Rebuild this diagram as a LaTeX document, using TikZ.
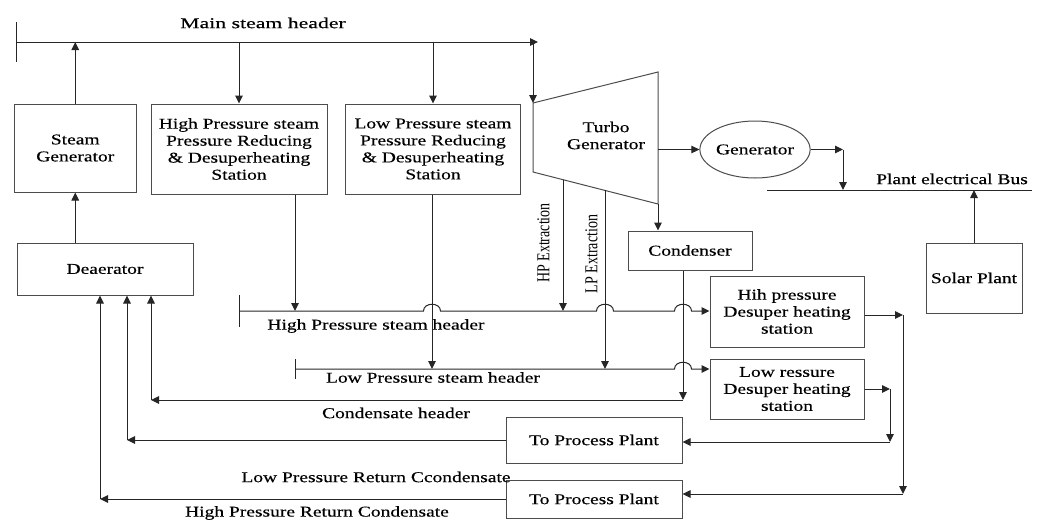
\documentclass[tikz,border=0pt]{standalone}
\usepackage{fontspec}
\setmainfont{Liberation Serif}[FakeStretch=1.3,FakeBold=0.35]
\newfontfamily\wideserif{Liberation Serif}[FakeStretch=1.45,FakeBold=0.35]
\newfontfamily\plainserif{Liberation Serif}
\usetikzlibrary{arrows.meta,shapes.geometric,calc}
\newcommand\fs{\fontsize{15}{17}\selectfont}
\begin{document}
\begin{tikzpicture}[x=1pt,y=-1pt,
  ln/.style={draw=black!85, line width=1pt},
  arr/.style={ln, -{Triangle[length=8pt,width=7.5pt]}},
  box/.style={draw=black!70, line width=1pt, align=center, inner sep=0pt, font=\fs, text=black},
  lbl/.style={font=\fs, text=black, inner sep=0pt, align=center},
  rlbl/.style={font=\plainserif\fontsize{14}{16}\selectfont, text=black, inner sep=0pt, rotate=90}]
\useasboundingbox (0,0) rectangle (1048,520);

% ---- boxes
\node[box, minimum width=121.5pt, minimum height=88pt] (sg) at (75.25,148) {Steam\\Generator};
\node[box, minimum width=176pt, minimum height=90pt] (hpprds) at (239,149) {High Pressure steam\\Pressure Reducing\\\& Desuperheating\\Station};
\node[box, minimum width=175.5pt, minimum height=90pt] (lpprds) at (433,149) {Low Pressure steam\\Pressure Reducing\\\& Desuperheating\\Station};
\node[box, minimum width=176pt, minimum height=52pt] (dea) at (105,269) {Deaerator};
\node[box, minimum width=124pt, minimum height=39pt] (cond) at (690,250.5) {Condenser};
\node[box, minimum width=154pt, minimum height=71pt] (hpds) at (787,311.5) {Hih pressure\\Desuper heating\\station};
\node[box, minimum width=154pt, minimum height=60pt] (lpds) at (787,389) {Low ressure\\Desuper heating\\station};
\node[box, minimum width=176pt, minimum height=46pt] (tpp1) at (594,440) {To Process Plant};
\node[box, minimum width=176pt, minimum height=38pt] (tpp2) at (594,499) {To Process Plant};
\node[box, minimum width=96pt, minimum height=70pt] (solar) at (974,278) {Solar Plant};
\node[box, ellipse, minimum width=90pt, minimum height=57pt] (gen) at (755,149.5) {Generator};

% ---- turbine
\coordinate (tTL) at (533,103);
\coordinate (tTR) at (658,72);
\coordinate (tBR) at (658,204);
\coordinate (tBL) at (533,172);
\draw[draw=black!70, line width=1pt] (tTL) -- (tTR) -- (tBR) -- (tBL) -- cycle;
\node[lbl] (turbo) at (606,135.5) {Turbo\\Generator};

% ---- main steam header
\coordinate (mhL) at (16,42);
\coordinate (mhR) at (538,42);
\draw[ln] (16,22) -- (16,62);
\draw[arr] (mhL) -- (mhR);
\node[lbl, font=\wideserif\fontsize{15}{17}\selectfont] (mhlabel) at (263,23) {Main steam header};
\coordinate (mhT) at (533,42);
\draw[arr] (mhT) -- (tTL);
\draw[arr] (sg.north) -- (sg.north |- mhL);
\draw[arr] (hpprds.north |- mhL) -- (hpprds.north);
\draw[arr] (lpprds.north |- mhL) -- (lpprds.north);

% deaerator -> steam generator
\draw[arr] (dea.north -| sg.south) -- (sg.south);

% ---- HP steam header
\coordinate (hhL) at (239,311);
\draw[ln] (239,295) -- (239,327);
\draw[ln, -{Triangle[length=8pt,width=7.5pt]}] (hhL) -- (423.5,311) .. controls (423.5,302) and (440.5,302) .. (440.5,311)
  -- (596.5,311) .. controls (596.5,302) and (613.5,302) .. (613.5,311)
  -- (674.5,311) .. controls (674.5,302) and (691.5,302) .. (691.5,311) -- (hpds.west |- hhL);
\node[lbl] (hhlabel) at (376,326) {High Pressure steam header};
\draw[arr] (hpprds.south -| 295,0) -- (295,311);

% ---- LP steam header
\coordinate (lhL) at (295,369);
\draw[ln] (295,359) -- (295,379);
\draw[ln, -{Triangle[length=8pt,width=7.5pt]}] (lhL) -- (674.5,369) .. controls (674.5,360) and (691.5,360) .. (691.5,369) -- (lpds.west |- lhL);
\node[lbl] (lhlabel) at (433,377.5) {Low Pressure steam header};
\draw[arr] (lpprds.south -| 432,0) -- (432,369);

% ---- extractions
\coordinate (hpx) at ($(tBL)!0.24!(tBR)$);
\coordinate (lpx) at ($(tBL)!0.576!(tBR)$);
\draw[arr] (hpx) -- (hpx |- hhL);
\draw[arr] (lpx) -- (lpx |- lhL);
\node[rlbl] (hpxl) at (543.5,243) {\scalebox{1}[1.3]{HP Extraction}};
\node[rlbl] (lpxl) at (591.5,254) {\scalebox{1}[1.3]{LP Extraction}};

% ---- turbine -> condenser, generator
\draw[arr] (tBR) -- (tBR |- cond.north);
\coordinate (tR) at (658,149.5);
\draw[arr] (tR) -- (gen.west);
\coordinate (gb) at (843,149.5);
\draw[arr] (gen.east) -- (gb);
\coordinate (busL) at (767,190);
\coordinate (busR) at (1032,190);
\draw[ln] (busL) -- (busR);
\node[lbl] (buslabel) at (952,179) {Plant electrical Bus};
\draw[arr] (gb) -- (gb |- busL);
\draw[arr] (solar.north) -- (solar.north |- busL);

% ---- condensate header
\coordinate (cb) at (683,400);
\coordinate (cl) at (151,400);
\draw[arr] (cond.south -| cb) -- (cb);
\draw[arr] (cb) -- (cl);
\draw[arr] (cl) -- (cl |- dea.south);
\node[lbl] (chlabel) at (396,413) {Condensate header};

% ---- LP return condensate
\coordinate (l1) at (127,440);
\draw[arr] (tpp1.west) -- (l1);
\draw[arr] (l1) -- (l1 |- dea.south);
\node[lbl] (lrlabel) at (376,477) {Low Pressure Return Ccondensate};

% ---- HP return condensate
\coordinate (h1) at (100,499);
\draw[arr] (tpp2.west) -- (h1);
\draw[arr] (h1) -- (h1 |- dea.south);
\node[lbl] (hrlabel) at (317,513) {High Pressure Return Condensate};

% ---- desuper heating outputs
\coordinate (hd1) at (903,315);
\coordinate (hd2) at (903,494);
\draw[arr] (hpds.east |- hd1) -- (hd1);
\draw[arr] (hd1) -- (hd2);
\draw[arr] (hd2) -- (tpp2.east |- hd2);
\coordinate (ld1) at (890,389);
\coordinate (ld2) at (890,442);
\draw[arr] (lpds.east |- ld1) -- (ld1);
\draw[arr] (ld1) -- (ld2);
\draw[arr] (ld2) -- (tpp1.east |- ld2);
\end{tikzpicture}
\end{document}
